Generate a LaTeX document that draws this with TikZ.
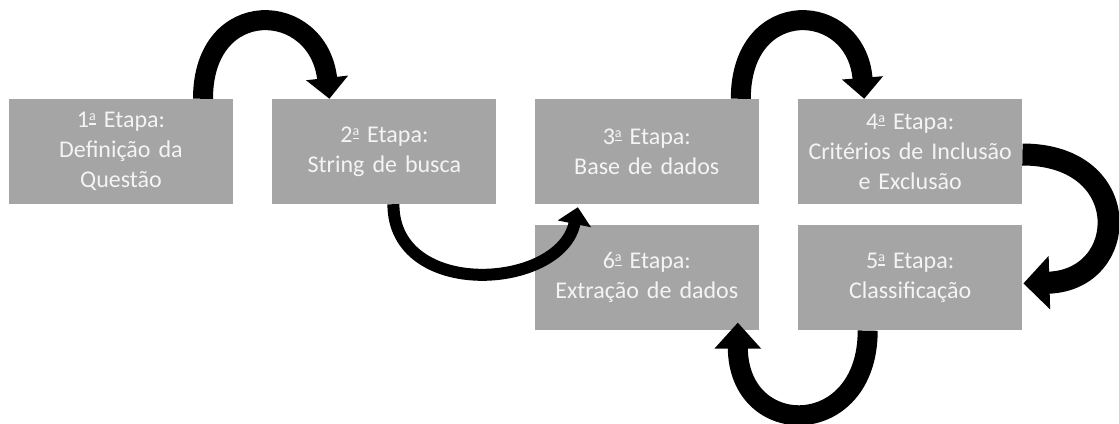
\documentclass[tikz,border=0pt]{standalone}
\usepackage{fontspec}
\setmainfont{Carlito}
\usepackage{xcolor}
\usepackage{tikz}
\usetikzlibrary{arrows.meta,positioning,calc}
\definecolor{caixa}{HTML}{A5A5A5}
\definecolor{textoclaro}{HTML}{F4F4F4}
\newcommand{\etapaord}{\raisebox{7pt}{\fontsize{14}{14}\selectfont a}\llap{\rule[3pt]{6.7pt}{1.2pt}}}
\tikzset{
    etapa/.style={rectangle, fill=caixa, minimum width=224pt, minimum height=105pt, text width=220pt, inner sep=0pt, align=center, text=textoclaro, font=\fontsize{24}{30}\selectfont},
    seta/.style={line width=#1, black},
    ponta/.style 2 args={-{Triangle[width=#1,length=#2]}}
}

\begin{document}
\begin{tikzpicture}[x=1pt, y=-1pt]
    \useasboundingbox (0,0) rectangle (1119,423);

    \node[etapa] (e1) at (121,151.5) {1\etapaord{} Etapa:\\Definição da\\Questão};
    \node[etapa, right=39pt of e1] (e2) {2\etapaord{} Etapa:\\String de busca};
    \node[etapa, right=38pt of e2] (e3) {3\etapaord{} Etapa:\\Base de dados};
    \node[etapa, right=39pt of e3] (e4) {4\etapaord{} Etapa:\\Critérios de Inclusão\\e Exclusão};
    \node[etapa, below=21pt of e4] (e5) {5\etapaord{} Etapa:\\Classificação};
    \node[etapa, below=21pt of e3] (e6) {6\etapaord{} Etapa:\\Extração de dados};

    % setas curvas entre as etapas
    \draw[seta=20pt, ponta={41pt}{21pt}] ($(e1.north)+(82,0)$) .. controls +(0,-104) and +(-11,-99) .. ($(e2.north)+(-55,0)$);
    \draw[seta=12pt, ponta={33pt}{17pt}] ($(e2.south)+(9,0)$) .. controls +(0,96) and +(-17,83) .. ($(e3.south)+(-69,3)$);
    \draw[seta=20pt, ponta={40pt}{21pt}] ($(e3.north)+(94,0)$) .. controls +(0,-104) and +(-8,-99) .. ($(e4.north)+(-46,0)$);
    \draw[seta=22pt, ponta={52pt}{26pt}] ($(e4.east)+(0,3)$) .. controls +(113,0) and +(107,-3) .. ($(e5.east)+(1,5.5)$);
    \draw[seta=20pt, ponta={45pt}{26pt}] ($(e5.south)+(-42.5,0)$) .. controls +(0,110) and +(0,118) .. ($(e6.south)+(91,-8)$);
\end{tikzpicture}
\end{document}
